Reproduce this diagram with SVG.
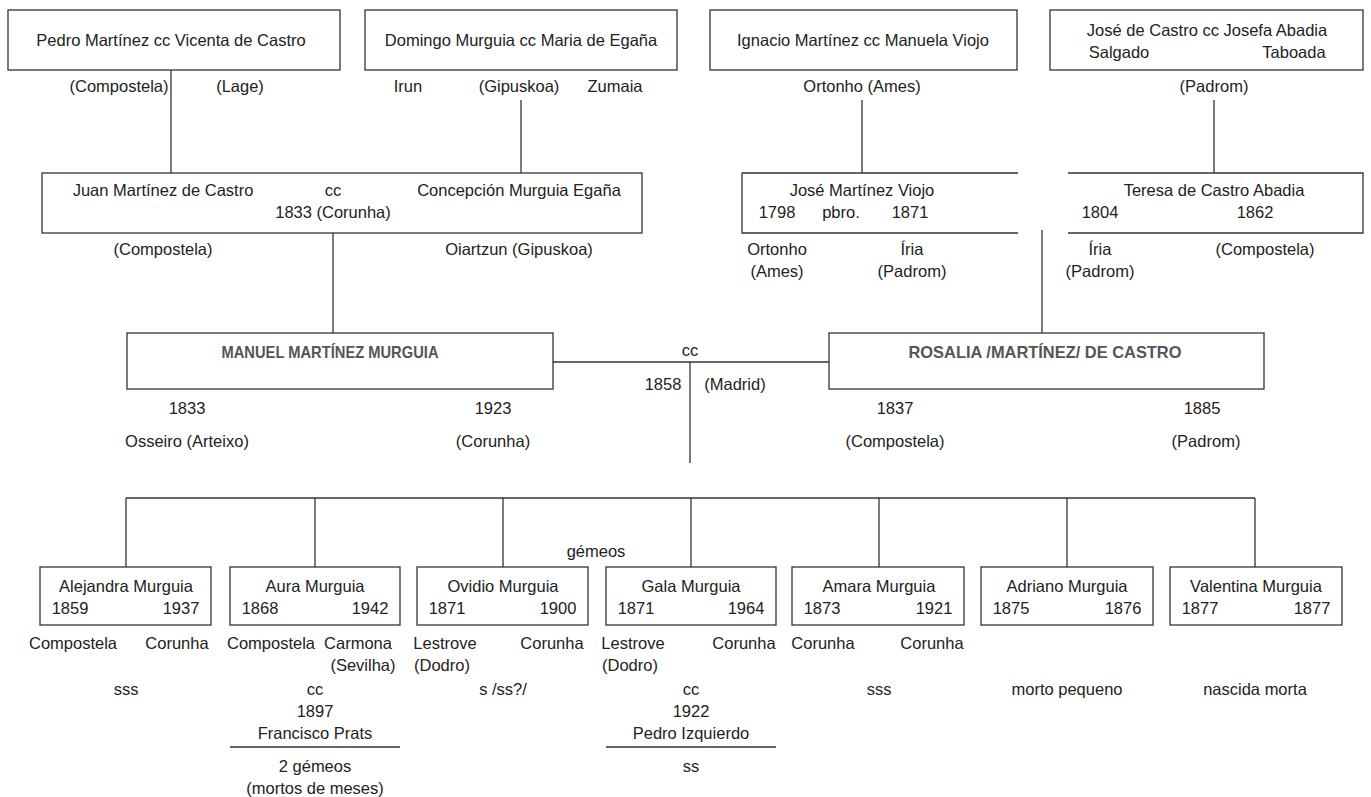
<svg xmlns="http://www.w3.org/2000/svg" width="1371" height="797" viewBox="0 0 1371 797">
<style>
text{font-family:"Liberation Sans",Arial,sans-serif;font-size:16.5px;fill:#222;text-anchor:middle}
text.b{font-weight:bold;fill:#555}
.box{fill:#fff;stroke:#333;stroke-width:1.3}
.ln{fill:none;stroke:#333;stroke-width:1.3}
</style>
<rect width="1371" height="797" fill="#fff"/>
<g id="connectors">
<line class="ln" x1="171" y1="70" x2="171" y2="173"/>
<line class="ln" x1="521" y1="100" x2="521" y2="173"/>
<line class="ln" x1="862" y1="100" x2="862" y2="173"/>
<line class="ln" x1="1214" y1="100" x2="1214" y2="173"/>
<line class="ln" x1="333" y1="233" x2="333" y2="333"/>
<line class="ln" x1="1042" y1="230" x2="1042" y2="333"/>
<line class="ln" x1="553" y1="362" x2="829" y2="362"/>
<line class="ln" x1="690" y1="362" x2="690" y2="463"/>
<line class="ln" x1="126" y1="498" x2="1255" y2="498"/>
<line class="ln" x1="126" y1="498" x2="126" y2="567"/>
<line class="ln" x1="315" y1="498" x2="315" y2="567"/>
<line class="ln" x1="503" y1="498" x2="503" y2="567"/>
<line class="ln" x1="691" y1="498" x2="691" y2="567"/>
<line class="ln" x1="879" y1="498" x2="879" y2="567"/>
<line class="ln" x1="1067" y1="498" x2="1067" y2="567"/>
<line class="ln" x1="1255" y1="498" x2="1255" y2="567"/>
<text x="690" y="356">cc</text>
<text x="663" y="390">1858</text>
<text x="735" y="390">(Madrid)</text>
</g>
<g id="pedro">
<rect class="box" x="8" y="10" width="332" height="60"/>
<text x="171" y="46">Pedro Martínez cc Vicenta de Castro</text>
<text x="119" y="92">(Compostela)</text>
<text x="240" y="92">(Lage)</text>
</g>
<g id="domingo">
<rect class="box" x="365" y="10" width="312" height="60"/>
<text x="521" y="46">Domingo Murguia cc Maria de Egaña</text>
<text x="408" y="92">Irun</text>
<text x="519" y="92">(Gipuskoa)</text>
<text x="615" y="92">Zumaia</text>
</g>
<g id="ignacio">
<rect class="box" x="710" y="10" width="307" height="60"/>
<text x="863" y="46">Ignacio Martínez cc Manuela Viojo</text>
<text x="862" y="92">Ortonho (Ames)</text>
</g>
<g id="jose-castro">
<rect class="box" x="1050" y="10" width="313" height="60"/>
<text x="1207" y="36">José de Castro cc Josefa Abadia</text>
<text x="1119" y="58">Salgado</text>
<text x="1294" y="58">Taboada</text>
<text x="1214" y="92">(Padrom)</text>
</g>
<g id="juan">
<rect class="box" x="42" y="173" width="600" height="60"/>
<text x="163" y="196">Juan Martínez de Castro</text>
<text x="333" y="196">cc</text>
<text x="519" y="196">Concepción Murguia Egaña</text>
<text x="333" y="218">1833 (Corunha)</text>
<text x="163" y="255">(Compostela)</text>
<text x="519" y="255">Oiartzun (Gipuskoa)</text>
</g>
<g id="jose-viojo">
<path class="ln" d="M1018,173 H742 V233 H1018"/>
<text x="862" y="196">José Martínez Viojo</text>
<text x="777" y="218">1798</text>
<text x="841" y="218">pbro.</text>
<text x="910" y="218">1871</text>
<text x="777" y="255">Ortonho</text>
<text x="777" y="277">(Ames)</text>
<text x="912" y="255">Íria</text>
<text x="912" y="277">(Padrom)</text>
</g>
<g id="teresa">
<path class="ln" d="M1068,173 H1363 V233 H1068"/>
<text x="1214" y="196">Teresa de Castro Abadia</text>
<text x="1100" y="218">1804</text>
<text x="1255" y="218">1862</text>
<text x="1100" y="255">Íria</text>
<text x="1100" y="277">(Padrom)</text>
<text x="1265" y="255">(Compostela)</text>
</g>
<g id="manuel">
<rect class="box" x="127" y="333" width="426" height="56"/>
<text class="b" x="330" y="358" textLength="217" lengthAdjust="spacingAndGlyphs">MANUEL MARTÍNEZ MURGUIA</text>
<text x="187" y="414">1833</text>
<text x="493" y="414">1923</text>
<text x="187" y="447">Osseiro (Arteixo)</text>
<text x="493" y="447">(Corunha)</text>
</g>
<g id="rosalia">
<rect class="box" x="829" y="333" width="435" height="56"/>
<text class="b" x="1045" y="358" textLength="273" lengthAdjust="spacingAndGlyphs">ROSALIA /MARTÍNEZ/ DE CASTRO</text>
<text x="895" y="414">1837</text>
<text x="1202" y="414">1885</text>
<text x="895" y="447">(Compostela)</text>
<text x="1206" y="447">(Padrom)</text>
</g>
<g id="alejandra">
<rect class="box" x="40" y="567" width="171" height="58"/>
<text x="126" y="592">Alejandra Murguia</text>
<text x="70" y="614">1859</text>
<text x="181" y="614">1937</text>
<text x="73" y="649">Compostela</text>
<text x="177" y="649">Corunha</text>
<text x="126" y="695">sss</text>
</g>
<g id="aura">
<rect class="box" x="230" y="567" width="170" height="58"/>
<text x="315" y="592">Aura Murguia</text>
<text x="260" y="614">1868</text>
<text x="370" y="614">1942</text>
<text x="271" y="649">Compostela</text>
<text x="358" y="649">Carmona</text>
<text x="363" y="671">(Sevilha)</text>
<text x="315" y="695">cc</text>
<text x="315" y="717">1897</text>
<text x="315" y="739">Francisco Prats</text>
<line class="ln" x1="230" y1="747" x2="400" y2="747"/>
<text x="315" y="772">2 gémeos</text>
<text x="315" y="794">(mortos de meses)</text>
</g>
<g id="ovidio">
<rect class="box" x="417" y="567" width="171" height="58"/>
<text x="596" y="557">gémeos</text>
<text x="503" y="592">Ovidio Murguia</text>
<text x="447" y="614">1871</text>
<text x="558" y="614">1900</text>
<text x="445" y="649">Lestrove</text>
<text x="552" y="649">Corunha</text>
<text x="442" y="671">(Dodro)</text>
<text x="503" y="695">s /ss?/</text>
</g>
<g id="gala">
<rect class="box" x="606" y="567" width="170" height="58"/>
<text x="691" y="592">Gala Murguia</text>
<text x="636" y="614">1871</text>
<text x="746" y="614">1964</text>
<text x="633" y="649">Lestrove</text>
<text x="744" y="649">Corunha</text>
<text x="630" y="671">(Dodro)</text>
<text x="691" y="695">cc</text>
<text x="691" y="717">1922</text>
<text x="691" y="739">Pedro Izquierdo</text>
<line class="ln" x1="606" y1="747" x2="776" y2="747"/>
<text x="691" y="772">ss</text>
</g>
<g id="amara">
<rect class="box" x="792" y="567" width="172" height="58"/>
<text x="879" y="592">Amara Murguia</text>
<text x="822" y="614">1873</text>
<text x="934" y="614">1921</text>
<text x="823" y="649">Corunha</text>
<text x="932" y="649">Corunha</text>
<text x="879" y="695">sss</text>
</g>
<g id="adriano">
<rect class="box" x="981" y="567" width="172" height="58"/>
<text x="1067" y="592">Adriano Murguia</text>
<text x="1011" y="614">1875</text>
<text x="1123" y="614">1876</text>
<text x="1067" y="695">morto pequeno</text>
</g>
<g id="valentina">
<rect class="box" x="1170" y="567" width="172" height="58"/>
<text x="1256" y="592">Valentina Murguia</text>
<text x="1200" y="614">1877</text>
<text x="1312" y="614">1877</text>
<text x="1255" y="695">nascida morta</text>
</g>
</svg>
